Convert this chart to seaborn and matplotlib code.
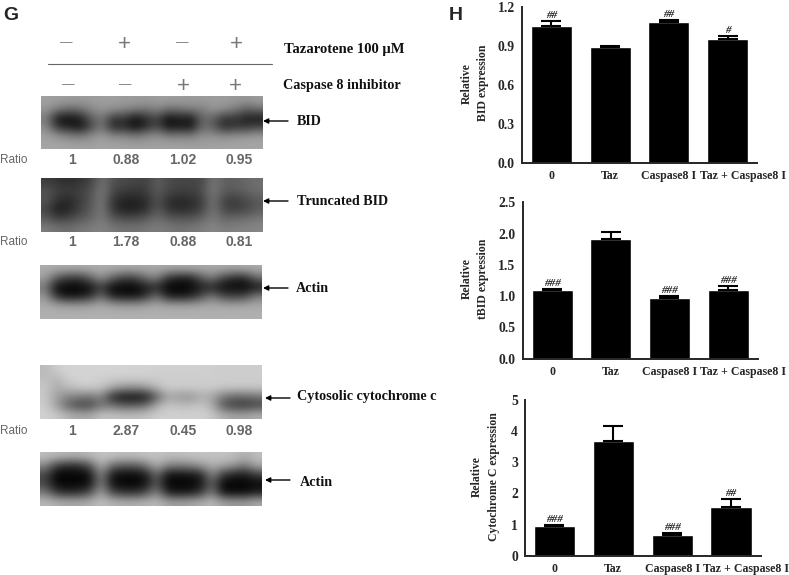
"""plot.py - western blot panels (G) and densitometry bars (H)."""
import matplotlib
matplotlib.use("Agg")
import matplotlib.pyplot as plt
from matplotlib.transforms import Affine2D
import pandas as pd
import seaborn as sns

W, H = 789, 575
SERIF = "Liberation Serif"
SANS = "Liberation Sans"

# bar data
groups = ["0", "Taz", "Caspase8 I", "Taz + Caspase8 I"]
bid_mean = [1.055, 0.89, 1.08, 0.955]
bid_err = [0.035, 0.005, 0.02, 0.02]
bid_marks = ["##", "", "##", "#"]
tbid_mean = [1.10, 1.91, 0.97, 1.10]
tbid_err = [0.02, 0.12, 0.04, 0.07]
tbid_marks = ["###", "", "###", "###"]
cyt_mean = [0.95, 3.68, 0.65, 1.57]
cyt_err = [0.03, 0.47, 0.08, 0.26]
cyt_marks = ["###", "", "###", "##"]

# blot annotations
ratio_bid = ["1", "0.88", "1.02", "0.95"]
ratio_tbid = ["1", "1.78", "0.88", "0.81"]
ratio_cyt = ["1", "2.87", "0.45", "0.98"]
taz_signs = ["—", "+", "—", "+"]
casp_signs = ["—", "—", "+", "+"]

# coarse grey levels of each blot, read by eye
blot_bid = [
    [160, 158, 155, 155, 156, 158, 158, 156, 155, 155, 156, 158, 156, 155, 155, 156, 156, 152, 150, 156],
    [150, 125, 105, 110, 135, 150, 145, 135, 125, 115, 135, 110, 115, 125, 125, 150, 140, 125, 95, 110],
    [125, 20, 15, 30, 90, 125, 50, 60, 15, 50, 70, 10, 35, 20, 105, 100, 50, 55, 30, 25],
    [140, 50, 35, 15, 70, 125, 35, 45, 10, 45, 75, 15, 30, 15, 110, 95, 40, 55, 55, 70],
    [160, 145, 130, 120, 140, 155, 135, 135, 120, 135, 145, 125, 130, 125, 145, 145, 140, 145, 148, 155],
    [165, 165, 162, 162, 160, 165, 162, 162, 160, 160, 162, 162, 162, 160, 160, 162, 162, 165, 165, 165],
]
blot_tbid = [
    [60, 50, 45, 50, 65, 115, 80, 75, 70, 65, 95, 75, 70, 70, 70, 120, 95, 95, 105, 110],
    [85, 65, 60, 65, 80, 125, 70, 60, 55, 60, 95, 70, 65, 65, 75, 125, 90, 90, 100, 110],
    [85, 50, 40, 60, 85, 125, 50, 35, 35, 45, 85, 45, 40, 45, 60, 120, 65, 60, 75, 90],
    [70, 25, 35, 65, 90, 125, 50, 30, 30, 45, 90, 50, 40, 45, 65, 120, 70, 60, 70, 90],
    [90, 60, 70, 85, 100, 125, 85, 75, 75, 90, 110, 90, 85, 85, 100, 125, 100, 105, 110, 120],
    [125, 115, 110, 120, 125, 130, 120, 115, 115, 120, 125, 120, 115, 120, 125, 135, 125, 130, 130, 135],
]
blot_actin1 = [
    [172, 172, 172, 172, 172, 172, 172, 172, 170, 170, 170, 170, 170, 170, 170, 170, 170, 170, 172, 172],
    [160, 90, 60, 55, 95, 150, 100, 65, 65, 110, 135, 50, 30, 30, 85, 125, 70, 40, 40, 110],
    [120, 10, 5, 5, 15, 60, 10, 5, 5, 25, 40, 5, 5, 5, 30, 35, 10, 10, 5, 20],
    [150, 45, 15, 20, 40, 110, 30, 20, 15, 45, 110, 30, 20, 30, 70, 120, 70, 60, 70, 125],
    [172, 165, 158, 158, 162, 170, 162, 158, 158, 162, 170, 165, 165, 165, 168, 170, 168, 168, 168, 170],
    [176, 176, 176, 176, 176, 176, 176, 176, 176, 176, 176, 176, 176, 176, 176, 176, 176, 176, 176, 176],
]
blot_cyt = [
    [185, 205, 212, 212, 212, 212, 212, 212, 210, 210, 208, 208, 208, 208, 208, 205, 205, 205, 205, 205],
    [190, 180, 208, 210, 210, 208, 205, 205, 205, 205, 205, 205, 205, 205, 205, 205, 205, 205, 205, 205],
    [200, 170, 185, 200, 205, 195, 170, 150, 145, 155, 185, 205, 205, 205, 205, 205, 200, 200, 200, 200],
    [200, 160, 135, 125, 115, 140, 40, 15, 15, 20, 90, 165, 150, 145, 170, 165, 120, 105, 105, 115],
    [205, 160, 100, 70, 70, 115, 115, 95, 95, 110, 170, 200, 190, 190, 200, 175, 85, 60, 55, 70],
    [208, 200, 180, 170, 170, 195, 195, 190, 190, 195, 205, 208, 208, 208, 208, 200, 175, 165, 165, 175],
]
blot_actin2 = [
    [190, 185, 180, 178, 185, 195, 195, 190, 190, 195, 195, 190, 190, 195, 195, 195, 195, 190, 175, 190],
    [135, 60, 40, 45, 80, 180, 105, 90, 90, 115, 175, 130, 125, 130, 150, 175, 165, 150, 120, 170],
    [70, 5, 5, 5, 15, 140, 20, 10, 10, 20, 110, 15, 15, 20, 30, 140, 55, 30, 25, 60],
    [70, 5, 5, 5, 15, 135, 15, 5, 5, 15, 90, 5, 5, 5, 20, 100, 5, 5, 5, 10],
    [120, 55, 40, 45, 75, 165, 70, 50, 45, 70, 135, 30, 20, 25, 50, 130, 15, 10, 10, 30],
    [185, 175, 170, 170, 175, 190, 180, 175, 175, 180, 185, 165, 160, 165, 175, 185, 160, 155, 155, 170],
]


def px_axes(fig, left, top, right, bottom):
    """Axes from reference pixel edges."""
    return fig.add_axes([left / W, 1 - bottom / H, (right - left) / W, (bottom - top) / H])


def draw_bars(fig, box, means, errs, marks, ymax, yticks, ylabel, label_x):
    ax = px_axes(fig, *box)
    df = pd.DataFrame({"group": groups, "value": means})
    sns.barplot(data=df, x="group", y="value", color="black", saturation=1, width=0.7, errorbar=None, ax=ax)
    ax.errorbar(range(4), means, yerr=[[0] * 4, errs], fmt="none", ecolor="black", elinewidth=1.5, capsize=7.5, capthick=1.5)
    for i, mark in enumerate(marks):
        if mark:
            ax.annotate(mark, (i, means[i] + errs[i]), xytext=(0, 0.5), textcoords="offset points",
                        ha="center", va="bottom", fontfamily=SERIF, fontstyle="italic", fontweight="bold", fontsize=8)
    ax.set_xlim(-0.5, 3.5)
    ax.set_ylim(0, ymax)
    ax.set_yticks(yticks)
    ax.set_yticklabels(yticks if ymax == 5 else [f"{t:.1f}" for t in yticks])
    ax.set_xlabel("")
    ax.set_ylabel("")
    sns.despine(ax=ax)
    for side in ["left", "bottom"]:
        ax.spines[side].set_linewidth(1.4)
    ax.tick_params(width=1.4, length=3.6, pad=1.5)
    for lab in ax.get_yticklabels():
        lab.set(fontfamily=SERIF, fontweight="bold", fontsize=9.8)
    for lab in ax.get_xticklabels():
        lab.set(fontfamily=SERIF, fontweight="bold", fontsize=8.6)
    # last label sits right of its tick so it clears its neighbour
    last = ax.get_xticklabels()[-1]
    last.set_transform(last.get_transform() + Affine2D().translate(15, 0))
    fig.text(label_x / W, 1 - (box[1] + box[3]) / 2 / H + 0.003, ylabel, rotation=90, ha="center", va="center",
             fontfamily=SERIF, fontweight="bold", fontsize=8.5, linespacing=1.55)
    return ax


def draw_blot(fig, box, grid):
    ax = px_axes(fig, *box)
    ax.imshow(grid, cmap="gray", vmin=0, vmax=255, aspect="auto", interpolation="bicubic")
    ax.axis("off")


def draw_sign(ov, x, y, sign):
    # dash is a thin em dash, plus needs a larger size to reach the same width
    if sign == "+":
        ov.text(x, y + 1.5, sign, color="#777777", fontfamily=SANS, fontsize=16, ha="center", va="center")
    else:
        ov.text(x, y, sign, color="#777777", fontfamily=SANS, fontsize=9, ha="center", va="center")


def main():
    sns.set_style("white")
    fig = plt.figure(figsize=(W / 100, H / 100), dpi=100)

    draw_blot(fig, (41, 96, 262, 149), blot_bid)
    draw_blot(fig, (41, 178, 262, 232), blot_tbid)
    draw_blot(fig, (40, 265, 261, 319), blot_actin1)
    draw_blot(fig, (40, 365, 261, 419), blot_cyt)
    draw_blot(fig, (40, 452, 261, 506), blot_actin2)

    # overlay in reference pixels for labels and arrows
    ov = fig.add_axes([0, 0, 1, 1], zorder=5)
    ov.set_xlim(0, W)
    ov.set_ylim(H, 0)
    ov.axis("off")
    ov.patch.set_alpha(0)

    ov.text(3, 16, "G", fontfamily=SANS, fontweight="bold", fontsize=14, va="center")
    ov.text(449, 15, "H", fontfamily=SANS, fontweight="bold", fontsize=14, va="center")

    for x, s in zip([66, 124, 182, 236], taz_signs):
        draw_sign(ov, x, 43, s)
    for x, s in zip([68, 125, 183, 235], casp_signs):
        draw_sign(ov, x, 85, s)
    ov.plot([48, 272], [64, 64], color="#666666", lw=0.8)

    bold = dict(fontfamily=SERIF, fontweight="bold", fontsize=10.2, va="center", color="#111111")
    ov.text(284, 49.5, "Tazarotene 100 µM", fontfamily=SERIF, fontweight="bold", fontsize=10.5, va="center", color="#111111")
    ov.text(283, 85.5, "Caspase 8 inhibitor", **bold)
    ov.text(297, 121.5, "BID", **bold)
    ov.text(297, 201.5, "Truncated BID", **bold)
    ov.text(296, 288.5, "Actin", **bold)
    ov.text(297, 396.5, "Cytosolic cytochrome c", **bold)
    ov.text(300, 482.5, "Actin", **bold)

    for y, x0 in [(121, 263), (201, 263), (288, 263), (398, 265), (480, 265)]:
        ov.annotate("", xy=(x0, y), xytext=(x0 + 25, y),
                    arrowprops=dict(arrowstyle="-|>,head_length=0.3,head_width=0.15", color="black", lw=1, shrinkA=0, shrinkB=0))

    for y, ratios in [(160, ratio_bid), (242, ratio_tbid), (431, ratio_cyt)]:
        ov.text(0, y, "Ratio", color="#666666", fontfamily=SANS, fontsize=8.5, va="center")
        for x, r in zip([72, 126, 183, 239], ratios):
            ov.text(x, y, r, color="#666666", fontfamily=SANS, fontweight="bold", fontsize=10, ha="center", va="center")

    draw_bars(fig, (522, 6.7, 757, 163), bid_mean, bid_err, bid_marks, 1.2, [0.0, 0.3, 0.6, 0.9, 1.2],
              "Relative\nBID expression", 475)
    draw_bars(fig, (522.7, 202.3, 757.5, 358.7), tbid_mean, tbid_err, tbid_marks, 2.5, [0.0, 0.5, 1.0, 1.5, 2.0, 2.5],
              "Relative\ntBID expression", 475)
    draw_bars(fig, (525, 400, 760.5, 555.7), cyt_mean, cyt_err, cyt_marks, 5, [0, 1, 2, 3, 4, 5],
              "Relative\nCytochrome C expression", 485.5)

    fig.savefig("out.png", dpi=100)


if __name__ == "__main__":
    main()
